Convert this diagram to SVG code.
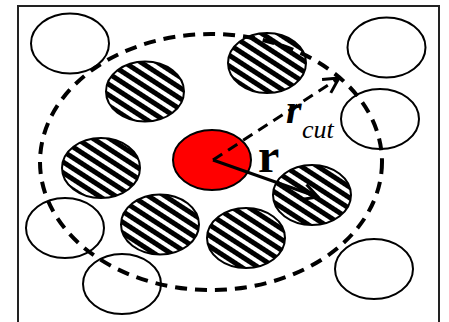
<svg xmlns="http://www.w3.org/2000/svg" width="449" height="322" viewBox="0 0 449 322">
<defs>
<pattern id="hatch" patternUnits="userSpaceOnUse" width="9" height="9" patternTransform="rotate(33)">
<rect x="0" y="0" width="9" height="9" fill="#fff"/>
<rect x="0" y="0" width="9" height="5" fill="#000"/>
</pattern>
<marker id="open" viewBox="0 0 20 20" refX="18" refY="10" markerWidth="20" markerHeight="20" markerUnits="userSpaceOnUse" orient="auto">
<path d="M3,2 L18,10 L3,18" fill="none" stroke="#000" stroke-width="3"/>
</marker>
</defs>
<style>
.open{fill:#fff;stroke:#000;stroke-width:2}
.hat{fill:url(#hatch);stroke:#000;stroke-width:2}
.red{fill:#f00;stroke:#000;stroke-width:2}
.lbl{font-family:"Liberation Serif","DejaVu Serif",serif;fill:#000}
</style>
<rect x="0" y="0" width="449" height="322" fill="#fff"/>
<rect x="18" y="6" width="421" height="330" fill="none" stroke="#222" stroke-width="2"/>
<g id="n-open1"><ellipse class="open" cx="70" cy="43.5" rx="39" ry="30"/></g>
<g id="n-open2"><ellipse class="open" cx="386.5" cy="47.5" rx="39" ry="30"/></g>
<g id="n-open3"><ellipse class="open" cx="380" cy="119" rx="39" ry="30"/></g>
<g id="n-open4"><ellipse class="open" cx="65" cy="228" rx="39" ry="30"/></g>
<g id="n-open5"><ellipse class="open" cx="122" cy="284" rx="39" ry="30"/></g>
<g id="n-open6"><ellipse class="open" cx="374" cy="269" rx="39" ry="30"/></g>
<g id="n-hat1"><ellipse class="hat" cx="145" cy="91.5" rx="39" ry="30"/></g>
<g id="n-hat2"><ellipse class="hat" cx="267" cy="63" rx="39" ry="30"/></g>
<g id="n-hat3"><ellipse class="hat" cx="101" cy="168" rx="39" ry="30"/></g>
<g id="n-hat4"><ellipse class="hat" cx="160" cy="224.5" rx="39" ry="30"/></g>
<g id="n-hat5"><ellipse class="hat" cx="312" cy="195" rx="39" ry="30"/></g>
<g id="n-hat6"><ellipse class="hat" cx="246" cy="238" rx="39" ry="30"/></g>
<g id="n-center"><ellipse class="red" cx="212" cy="160" rx="39" ry="30"/></g>
<g id="connectors">
<ellipse cx="211" cy="162" rx="171" ry="128" fill="none" stroke="#000" stroke-width="4" stroke-dasharray="12 8"/>
<line x1="213" y1="160" x2="339" y2="78" stroke="#000" stroke-width="3" stroke-dasharray="11 7" marker-end="url(#open)"/>
<line x1="213" y1="160" x2="318" y2="197" stroke="#000" stroke-width="3" marker-end="url(#open)"/>
</g>
<g id="labels">
<text class="lbl" x="286" y="123" font-style="italic" font-weight="bold" font-size="40">r</text>
<text class="lbl" x="302" y="138" font-style="italic" font-size="26">cut</text>
<text class="lbl" x="258" y="172" font-weight="bold" font-size="48">r</text>
</g>
</svg>
